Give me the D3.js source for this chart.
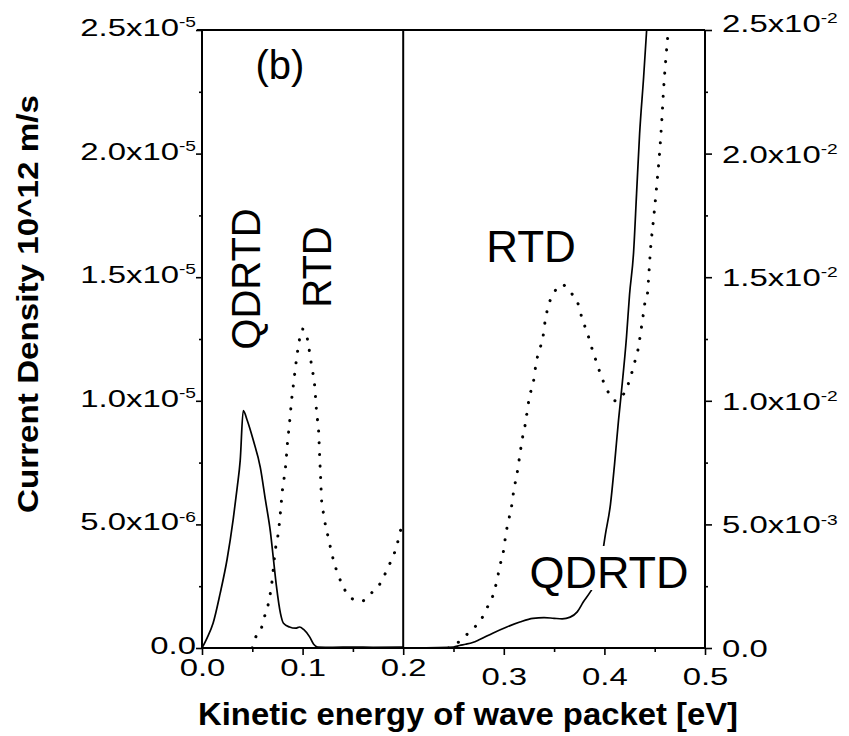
<!DOCTYPE html>
<html>
<head>
<meta charset="utf-8">
<script src="https://cdn.jsdelivr.net/npm/d3@7"></script>
<style>
  body { margin: 0; background: #fff; }
  svg { display: block; }
  text { font-family: "Liberation Sans", Arial, sans-serif; fill: #000; }
</style>
</head>
<body>
<svg id="chart" width="849" height="736"></svg>
<script>
// Current density vs. kinetic energy of the wave packet.
// Left panel (0–0.2 eV) uses the left axis in units of 1e-5,
// right panel (0.2–0.5 eV) uses the right axis in units of 1e-2.

// ---- left panel, current density ×1e-5 ----
const qdrtdLeftE = [0, 0.005, 0.011, 0.018, 0.025, 0.031, 0.035, 0.038, 0.041, 0.045, 0.051, 0.058, 0.063, 0.068, 0.071, 0.074, 0.078, 0.081, 0.087, 0.093, 0.097, 0.101, 0.107, 0.111, 0.115, 0.13, 0.15, 0.17, 0.2];
const qdrtdLeftJ = [0, 0.04, 0.10, 0.22, 0.36, 0.52, 0.65, 0.76, 0.96, 0.92, 0.84, 0.73, 0.60, 0.47, 0.36, 0.25, 0.14, 0.10, 0.085, 0.08, 0.085, 0.075, 0.045, 0.015, 0.004, 0.003, 0.004, 0.003, 0.004];

const rtdLeftE = [0.05, 0.053, 0.059, 0.062, 0.066, 0.069, 0.073, 0.076, 0.078, 0.080, 0.083, 0.085, 0.087, 0.089, 0.091, 0.094, 0.097, 0.100, 0.103, 0.106, 0.109, 0.112, 0.114, 0.116, 0.117, 0.118, 0.119, 0.121, 0.123, 0.126, 0.128, 0.131, 0.135, 0.139, 0.146, 0.152, 0.159, 0.165, 0.170, 0.180, 0.184, 0.190, 0.194, 0.197, 0.2];
const rtdLeftJ = [0.0, 0.04, 0.08, 0.125, 0.18, 0.25, 0.40, 0.47, 0.55, 0.64, 0.73, 0.83, 0.91, 1.00, 1.07, 1.17, 1.25, 1.29, 1.28, 1.22, 1.14, 1.06, 0.95, 0.87, 0.77, 0.68, 0.59, 0.54, 0.49, 0.44, 0.40, 0.35, 0.30, 0.26, 0.21, 0.195, 0.19, 0.205, 0.23, 0.28, 0.32, 0.37, 0.42, 0.47, 0.52];

// ---- right panel, current density ×1e-2 ----
const qdrtdRightE = [0.2, 0.25, 0.256, 0.262, 0.269, 0.276, 0.289, 0.303, 0.316, 0.329, 0.340, 0.350, 0.358, 0.366, 0.373, 0.379, 0.386, 0.391, 0.396, 0.401, 0.406, 0.410, 0.414, 0.417, 0.422, 0.425, 0.429, 0.432, 0.435, 0.439, 0.442, 0.445];
const qdrtdRightJ = [0.0, 0.004, 0.01, 0.015, 0.022, 0.034, 0.06, 0.085, 0.105, 0.12, 0.123, 0.12, 0.118, 0.125, 0.146, 0.186, 0.227, 0.263, 0.33, 0.46, 0.58, 0.74, 0.92, 1.04, 1.26, 1.43, 1.6, 1.84, 2.08, 2.31, 2.5, 2.7];

const rtdRightE = [0.245, 0.252, 0.261, 0.268, 0.276, 0.283, 0.289, 0.293, 0.296, 0.300, 0.302, 0.305, 0.308, 0.310, 0.313, 0.315, 0.317, 0.319, 0.322, 0.324, 0.327, 0.330, 0.332, 0.335, 0.339, 0.341, 0.344, 0.349, 0.358, 0.366, 0.374, 0.378, 0.383, 0.387, 0.391, 0.396, 0.402, 0.411, 0.422, 0.427, 0.431, 0.434, 0.436, 0.438, 0.440, 0.443, 0.444, 0.446, 0.449, 0.452, 0.455, 0.457, 0.459, 0.461, 0.4635, 0.466];
const rtdRightJ = [0.0, 0.015, 0.045, 0.075, 0.105, 0.16, 0.21, 0.27, 0.33, 0.40, 0.46, 0.52, 0.58, 0.64, 0.70, 0.755, 0.81, 0.86, 0.92, 0.98, 1.04, 1.09, 1.15, 1.20, 1.26, 1.32, 1.38, 1.43, 1.47, 1.44, 1.39, 1.33, 1.275, 1.22, 1.17, 1.11, 1.05, 1.0, 1.05, 1.11, 1.17, 1.22, 1.275, 1.33, 1.39, 1.44, 1.50, 1.62, 1.74, 1.87, 2.01, 2.13, 2.27, 2.38, 2.5, 2.65];

// ---- ticks ----
const yTickValues = [0, 0.5, 1.0, 1.5, 2.0, 2.5];
const yMinorValues = [0.25, 0.75, 1.25, 1.75, 2.25];
const leftTickLabels = [["0.0", ""], ["5.0x10", "-6"], ["1.0x10", "-5"], ["1.5x10", "-5"], ["2.0x10", "-5"], ["2.5x10", "-5"]];
const rightTickLabels = [["0.0", ""], ["5.0x10", "-3"], ["1.0x10", "-2"], ["1.5x10", "-2"], ["2.0x10", "-2"], ["2.5x10", "-2"]];
const xTicksLeftPanel = [0, 0.1, 0.2];
const xTicksRightPanel = [0.3, 0.4, 0.5];
const xTickLabelsLeft = ["0.0", "0.1", "0.2"];
const xTickLabelsRight = ["0.3", "0.4", "0.5"];
const xMinorValues = [0.05, 0.15, 0.25, 0.35, 0.45];

const xTitle = "Kinetic energy of wave packet [eV]";
const yTitle = "Current Density 10^12 m/s";

// ---- layout ----
const plot = { left: 202, right: 705, top: 30, bottom: 648 };
const stretch = 1.37;   // wide tick-label lettering

const svg = d3.select("#chart");

const x = d3.scaleLinear().domain([0, 0.5]).range([plot.left, plot.right]);
const yL = d3.scaleLinear().domain([0, 2.5]).range([plot.bottom, plot.top]);
const yR = d3.scaleLinear().domain([0, 2.5]).range([plot.bottom, plot.top]);

svg.append("defs").append("clipPath").attr("id", "plotClip")
  .append("rect")
  .attr("x", plot.left).attr("y", plot.top)
  .attr("width", plot.right - plot.left).attr("height", plot.bottom - plot.top);

function styleAxis(g) {
  g.select(".domain").remove();
  g.selectAll(".tick line").attr("stroke", "#000").attr("stroke-width", 1.6);
}

function writeSci(textSel, labels) {
  textSel.each(function(d, i) {
    const t = d3.select(this);
    t.text(null);
    const pair = labels[i];
    t.append("tspan").text(pair[0]);
    if (pair[1]) {
      t.append("tspan").attr("dy", "-0.62em").attr("font-size", 14).text(pair[1]);
    }
  });
}

// left axis
const gL = svg.append("g").attr("transform", `translate(${plot.left},0)`)
  .call(d3.axisLeft(yL).tickValues(yTickValues).tickSize(6).tickFormat(""));
styleAxis(gL);
gL.selectAll(".tick text")
  .attr("x", 0).attr("dy", "0.35em")
  .attr("font-size", 24)
  .attr("text-anchor", "end")
  .attr("transform", `translate(-6,-3) scale(${stretch},1)`);
gL.selectAll(".tick").each(function(d, i) {
  const t = d3.select(this).select("text");
  writeSci(t, [leftTickLabels[i]]);
});
svg.append("g").attr("transform", `translate(${plot.left},0)`)
  .call(d3.axisLeft(yL).tickValues(yMinorValues).tickSize(3).tickFormat(""))
  .call(styleAxis);

// right axis (topmost label sits a bit above its tick)
const gR = svg.append("g").attr("transform", `translate(${plot.right},0)`)
  .call(d3.axisRight(yR).tickValues(yTickValues).tickSize(7).tickFormat(""));
styleAxis(gR);
gR.selectAll(".tick text")
  .attr("x", 0).attr("dy", "0.35em")
  .attr("font-size", 24)
  .attr("text-anchor", "start")
  .attr("transform", d => `translate(17,${d === 2.5 ? -7 : 0}) scale(${stretch},1)`);
gR.selectAll(".tick").each(function(d, i) {
  const t = d3.select(this).select("text");
  writeSci(t, [rightTickLabels[i]]);
});
svg.append("g").attr("transform", `translate(${plot.right},0)`)
  .call(d3.axisRight(yR).tickValues(yMinorValues).tickSize(3).tickFormat(""))
  .call(styleAxis);

// bottom axes: left-panel labels sit a little higher than right-panel labels
const gBL = svg.append("g").attr("transform", `translate(0,${plot.bottom})`)
  .call(d3.axisBottom(x).tickValues(xTicksLeftPanel).tickSize(7)
    .tickFormat((d, i) => xTickLabelsLeft[i]));
styleAxis(gBL);
gBL.selectAll(".tick text").attr("font-size", 24).attr("y", 0).attr("dy", 0)
  .attr("text-anchor", "middle")
  .attr("transform", `translate(0,28) scale(${stretch},1)`);

const gBR = svg.append("g").attr("transform", `translate(0,${plot.bottom})`)
  .call(d3.axisBottom(x).tickValues(xTicksRightPanel).tickSize(7)
    .tickFormat((d, i) => xTickLabelsRight[i]));
styleAxis(gBR);
gBR.selectAll(".tick text").attr("font-size", 24).attr("y", 0).attr("dy", 0)
  .attr("text-anchor", "middle")
  .attr("transform", `translate(0,37) scale(${stretch},1)`);

svg.append("g").attr("transform", `translate(0,${plot.bottom})`)
  .call(d3.axisBottom(x).tickValues(xMinorValues).tickSize(4).tickFormat(""))
  .call(styleAxis);

// frame lines
const frame = svg.append("g").attr("stroke", "#000").attr("stroke-width", 2).attr("fill", "none");
frame.append("line").attr("x1", plot.left).attr("x2", plot.left).attr("y1", plot.top).attr("y2", plot.bottom);
frame.append("line").attr("x1", plot.right).attr("x2", plot.right).attr("y1", plot.top).attr("y2", plot.bottom);
frame.append("line").attr("x1", plot.left - 5).attr("x2", plot.right).attr("y1", plot.top).attr("y2", plot.top);
frame.append("line").attr("x1", plot.left).attr("x2", plot.right).attr("y1", plot.bottom).attr("y2", plot.bottom);
frame.append("line").attr("x1", x(0.2)).attr("x2", x(0.2)).attr("y1", plot.top).attr("y2", plot.bottom);

// curves
const zip = (a, b) => a.map((v, i) => [v, b[i]]);
const lineL = d3.line().x(d => x(d[0])).y(d => yL(d[1])).curve(d3.curveMonotoneX);
const lineR = d3.line().x(d => x(d[0])).y(d => yR(d[1])).curve(d3.curveMonotoneX);

const curves = svg.append("g").attr("clip-path", "url(#plotClip)").attr("fill", "none").attr("stroke", "#000");

curves.append("path").attr("d", lineL(zip(qdrtdLeftE, qdrtdLeftJ)))
  .attr("stroke-width", 1.7);
curves.append("path").attr("d", lineR(zip(qdrtdRightE, qdrtdRightJ)))
  .attr("stroke-width", 1.7);

curves.append("path").attr("d", lineL(zip(rtdLeftE, rtdLeftJ)))
  .attr("stroke-width", 3).attr("stroke-linecap", "round").attr("stroke-dasharray", "0.1 11.5");
curves.append("path").attr("d", lineR(zip(rtdRightE, rtdRightJ)))
  .attr("stroke-width", 3).attr("stroke-linecap", "round").attr("stroke-dasharray", "0.1 11.5");

// annotations
svg.append("text").attr("x", 280).attr("y", 79).attr("text-anchor", "middle")
  .attr("font-size", 40).text("(b)");

svg.append("text").attr("transform", "translate(260,279) rotate(-90)")
  .attr("text-anchor", "middle").attr("font-size", 40).text("QDRTD");
svg.append("text").attr("transform", "translate(331,267) rotate(-90)")
  .attr("text-anchor", "middle").attr("font-size", 40).text("RTD");

svg.append("text").attr("x", 531).attr("y", 262).attr("text-anchor", "middle")
  .attr("font-size", 44).text("RTD");

// label box masks the curve passing behind it
svg.append("rect").attr("x", 590).attr("y", 546).attr("width", 30).attr("height", 44).attr("fill", "#fff");
svg.append("text").attr("x", 609).attr("y", 588).attr("text-anchor", "middle")
  .attr("font-size", 45).text("QDRTD");

// axis titles
svg.append("text").attr("x", 198).attr("y", 725).attr("font-size", 32).attr("font-weight", "bold")
  .attr("textLength", 540).attr("lengthAdjust", "spacingAndGlyphs").text(xTitle);

svg.append("text").attr("transform", "translate(38,513) rotate(-90)")
  .attr("font-size", 30).attr("font-weight", "bold")
  .attr("textLength", 418).attr("lengthAdjust", "spacingAndGlyphs").text(yTitle);
</script>
</body>
</html>
